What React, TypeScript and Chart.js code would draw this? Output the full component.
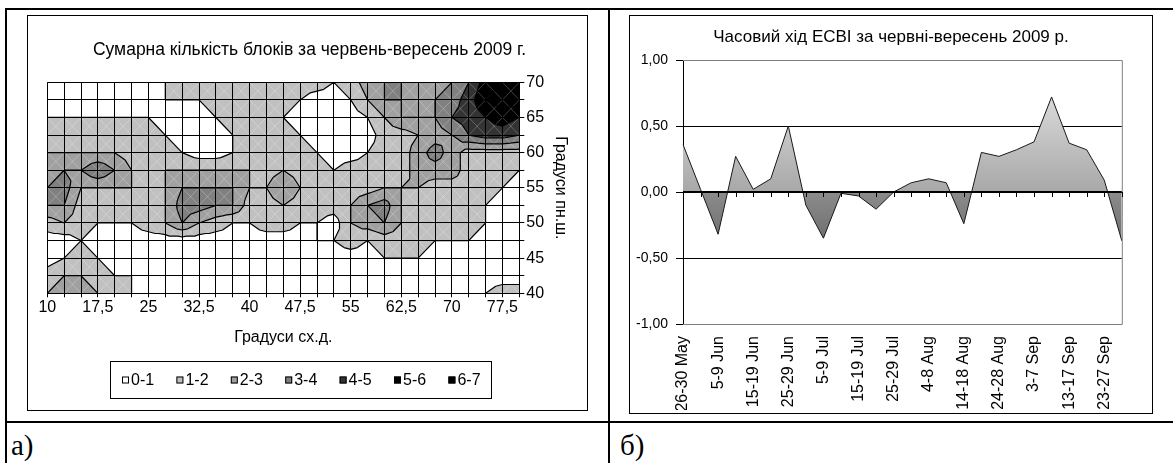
import React, { useEffect, useRef } from 'react';
import { Chart, registerables } from 'chart.js';

Chart.register(...registerables);

const FONT = '"Liberation Sans", Arial, sans-serif';

// ---------- panel (a): contour grid ----------
const lons = [10, 12.5, 15, 17.5, 20, 22.5, 25, 27.5, 30, 32.5, 35, 37.5, 40, 42.5, 45, 47.5, 50, 52.5, 55, 57.5, 60, 62.5, 65, 67.5, 70, 72.5, 75, 77.5, 80];
const lats = [70, 67.5, 65, 62.5, 60, 57.5, 55, 52.5, 50, 47.5, 45, 42.5, 40];
const lonLabels = [10, 17.5, 25, 32.5, 40, 47.5, 55, 62.5, 70, 77.5];
const latLabels = [70, 65, 60, 55, 50, 45, 40];

const lat70 = [0.5, 0.5, 0.5, 0.5, 0.5, 0.5, 0.5, 1, 1.5, 1.5, 1.5, 1.5, 1.5, 1.5, 1.5, 1.5, 1.5, 1, 1.5, 2.5, 3, 3, 2.5, 2.5, 3, 4, 5.5, 6, 6.5];
const lat67_5 = [0.5, 0.5, 0.5, 0.5, 0.5, 0.5, 0.5, 1, 1, 1, 1.5, 1.5, 1.5, 1.5, 1.5, 1, 0.5, 0.5, 1, 2, 3, 3, 2.5, 3, 3.5, 4.5, 6, 6.5, 6.5];
const lat65 = [1, 1, 1, 1, 1, 1, 1, 0.5, 0.5, 0.5, 1, 1.5, 1.5, 1.5, 1, 0.5, 0.5, 0.5, 0.5, 1, 2, 3, 3, 3, 4, 4.5, 5, 5.5, 5];
const lat62_5 = [1.5, 1.5, 1.5, 1.5, 1.5, 1.5, 1.5, 1, 0.5, 0.5, 0.5, 1, 1.5, 1.5, 1.5, 1, 0.5, 0.5, 0.5, 0.5, 1.5, 1.5, 2, 2.5, 3, 4, 4.5, 4.5, 4];
const lat60 = [2, 2, 2, 2, 2, 1.5, 1.5, 1.5, 1, 0.5, 0.5, 1, 1.5, 1.5, 1.5, 1.5, 1, 0.5, 0.5, 1, 1.5, 1.5, 2.5, 3.5, 2.5, 1.5, 1.5, 1.5, 1.5];
const lat57_5 = [2.5, 3, 3, 3.9, 3, 2, 1.5, 2, 2, 2, 2, 2, 2, 1.5, 2, 1.5, 1.5, 1, 1.5, 1.5, 1.5, 1.5, 2.5, 2.5, 2.5, 1.5, 1.5, 1.5, 1];
const lat55 = [3, 3.5, 2, 2, 2, 2, 1.5, 2, 3, 3, 3, 3, 2, 2, 3, 2, 1.5, 1.5, 1.5, 1.5, 2, 2, 2, 1.5, 1.5, 1.5, 1.5, 1, 0.5];
const lat52_5 = [3, 3, 1.5, 1.5, 1.5, 1.5, 1.5, 2, 3.5, 3.5, 3, 3, 1.5, 1.5, 2, 1.5, 1.5, 1.5, 2, 3, 3.5, 2, 1.5, 1.5, 1.5, 1.5, 1, 0.5, 0.5];
const lat50 = [1.5, 2, 1.5, 1, 1, 1, 1.5, 2, 3, 2, 1.5, 1, 1, 1.5, 1.5, 1, 1, 0.5, 2, 2.5, 3, 2, 1.5, 1.5, 1.5, 1.5, 1, 0.5, 0.5];
const lat47_5 = [0.5, 0.5, 1, 0.5, 0.5, 0.5, 0.5, 0.5, 0.5, 0.5, 0.5, 0.5, 0.5, 0.5, 0.5, 0.5, 1, 1, 1.5, 1, 1.5, 1.5, 1.5, 1, 1, 1, 0.5, 0.5, 0.5];
const lat45 = [0.5, 1, 1.5, 1, 0.5, 0.5, 0.5, 0.5, 0.5, 0.5, 0.5, 0.5, 0.5, 0.5, 0.5, 0.5, 0.5, 0.5, 0.5, 0.5, 1, 1, 1, 0.5, 0.5, 0.5, 0.5, 0.5, 0.5];
const lat42_5 = [1.5, 2, 2, 1.5, 1, 1, 0.5, 0.5, 0.5, 0.5, 0.5, 0.5, 0.5, 0.5, 0.5, 0.5, 0.5, 0.5, 0.5, 0.5, 0.5, 0.5, 0.5, 0.5, 0.5, 0.5, 0.5, 0.5, 0.5];
const lat40 = [2, 2.5, 2.5, 2, 1.5, 1, 0.5, 0.5, 0.5, 0.5, 0.5, 0.5, 0.5, 0.5, 0.5, 0.5, 0.5, 0.5, 0.5, 0.5, 0.5, 0.5, 0.5, 0.5, 0.5, 0.5, 1, 1.5, 1.5];

const bandNames = ['0-1', '1-2', '2-3', '3-4', '4-5', '5-6', '6-7'];
const bandColors = ['#ffffff', '#c0c0c0', '#a0a0a0', '#808080', '#333333', '#000000', '#000000'];

const grid = [lat70, lat67_5, lat65, lat62_5, lat60, lat57_5, lat55, lat52_5, lat50, lat47_5, lat45, lat42_5, lat40];

// ---------- panel (b): ESBI time series ----------
const periods = ['26-30 May', '31 May-4 Jun', '5-9 Jun', '10-14 Jun', '15-19 Jun', '20-24 Jun', '25-29 Jun', '30 Jun-4 Jul', '5-9 Jul', '10-14 Jul', '15-19 Jul', '20-24 Jul', '25-29 Jul', '30 Jul-3 Aug', '4-8 Aug', '9-13 Aug', '14-18 Aug', '19-23 Aug', '24-28 Aug', '29 Aug-2 Sep', '3-7 Sep', '8-12 Sep', '13-17 Sep', '18-22 Sep', '23-27 Sep', '28 Sep-2 Oct'];
const esbi = [0.36, 0.02, -0.32, 0.27, 0.02, 0.10, 0.50, -0.10, -0.35, -0.01, -0.03, -0.13, 0.00, 0.07, 0.10, 0.07, -0.24, 0.30, 0.27, 0.32, 0.38, 0.72, 0.37, 0.32, 0.09, -0.37];

type P = { x: number; y: number; v: number };

function clipAbove(poly: P[], level: number): P[] {
  const out: P[] = [];
  for (let i = 0; i < poly.length; i++) {
    const a = poly[i];
    const b = poly[(i + 1) % poly.length];
    const ina = a.v >= level;
    const inb = b.v >= level;
    if (ina) out.push(a);
    if (ina !== inb) {
      const t = (level - a.v) / (b.v - a.v);
      out.push({ x: a.x + t * (b.x - a.x), y: a.y + t * (b.y - a.y), v: level });
    }
  }
  return out;
}

const fmt = (v: number) => String(v).replace('.', ',');

const contourPlugin = {
  id: 'contourBands',
  beforeDatasetsDraw(chart: any) {
    const ctx: CanvasRenderingContext2D = chart.ctx;
    const xs = chart.scales.x;
    const ys = chart.scales.y;
    const ca = chart.chartArea;
    const tris: P[][] = [];
    for (let r = 0; r < lats.length - 1; r++) {
      for (let c = 0; c < lons.length - 1; c++) {
        const x0 = xs.getPixelForValue(lons[c]);
        const x1 = xs.getPixelForValue(lons[c + 1]);
        const y0 = ys.getPixelForValue(lats[r]);
        const y1 = ys.getPixelForValue(lats[r + 1]);
        const p00 = { x: x0, y: y0, v: grid[r][c] };
        const p10 = { x: x1, y: y0, v: grid[r][c + 1] };
        const p01 = { x: x0, y: y1, v: grid[r + 1][c] };
        const p11 = { x: x1, y: y1, v: grid[r + 1][c + 1] };
        const pc = { x: (x0 + x1) / 2, y: (y0 + y1) / 2, v: (p00.v + p10.v + p01.v + p11.v) / 4 };
        tris.push([p00, p10, pc], [p10, p11, pc], [p11, p01, pc], [p01, p00, pc]);
      }
    }
    ctx.save();
    ctx.fillStyle = bandColors[0];
    ctx.fillRect(ca.left, ca.top, ca.right - ca.left, ca.bottom - ca.top);
    for (let k = 1; k < bandColors.length; k++) {
      ctx.beginPath();
      for (const t of tris) {
        const poly = clipAbove(t, k);
        if (poly.length < 3) continue;
        ctx.moveTo(poly[0].x, poly[0].y);
        for (let i = 1; i < poly.length; i++) ctx.lineTo(poly[i].x, poly[i].y);
        ctx.closePath();
      }
      ctx.fillStyle = bandColors[k];
      ctx.fill();
    }
    // faint cell diagonals
    ctx.strokeStyle = 'rgba(255,255,255,0.24)';
    ctx.lineWidth = 1;
    ctx.beginPath();
    for (let r = 0; r < lats.length - 1; r++) {
      for (let c = 0; c < lons.length - 1; c++) {
        const x0 = xs.getPixelForValue(lons[c]);
        const x1 = xs.getPixelForValue(lons[c + 1]);
        const y0 = ys.getPixelForValue(lats[r]);
        const y1 = ys.getPixelForValue(lats[r + 1]);
        ctx.moveTo(x0, y0); ctx.lineTo(x1, y1);
        ctx.moveTo(x1, y0); ctx.lineTo(x0, y1);
      }
    }
    ctx.stroke();
    // contour lines
    ctx.strokeStyle = '#000';
    ctx.lineWidth = 1.2;
    ctx.beginPath();
    for (let k = 1; k < bandColors.length; k++) {
      for (const t of tris) {
        const ab = t.map((p) => p.v >= k);
        const n = ab.filter(Boolean).length;
        if (n === 0 || n === 3) continue;
        const seg: { x: number; y: number }[] = [];
        for (let i = 0; i < 3; i++) {
          const j = (i + 1) % 3;
          if (ab[i] !== ab[j]) {
            const a = t[i], b = t[j];
            const tt = (k - a.v) / (b.v - a.v);
            seg.push({ x: a.x + tt * (b.x - a.x), y: a.y + tt * (b.y - a.y) });
          }
        }
        if (seg.length === 2 && Math.hypot(seg[0].x - seg[1].x, seg[0].y - seg[1].y) > 0.01) {
          ctx.moveTo(seg[0].x, seg[0].y);
          ctx.lineTo(seg[1].x, seg[1].y);
        }
      }
    }
    ctx.stroke();
    ctx.restore();
  },
  afterDraw(chart: any) {
    const ctx: CanvasRenderingContext2D = chart.ctx;
    const W = chart.width, H = chart.height;
    const ca = chart.chartArea;
    ctx.save();
    ctx.strokeStyle = '#000';
    ctx.lineWidth = 1;
    ctx.strokeRect(0.5, 0.5, W - 1, H - 1);
    ctx.fillStyle = '#000';
    ctx.textAlign = 'center';
    ctx.textBaseline = 'middle';
    ctx.font = `17.5px ${FONT}`;
    ctx.fillText('Сумарна кількість блоків за червень-вересень 2009 г.', W / 2 + 2, 35);
    ctx.font = `16px ${FONT}`;
    ctx.fillText('Градуси сх.д.', (ca.left + ca.right) / 2, 323);
    ctx.save();
    ctx.translate(533, (ca.top + ca.bottom) / 2);
    ctx.rotate(Math.PI / 2);
    ctx.fillText('Градуси пн.ш.', 0, 0);
    ctx.restore();
    // legend
    const lx = 83.5, ly = 346.5, lw = 381, lh = 37;
    ctx.strokeRect(lx, ly, lw, lh);
    ctx.textAlign = 'left';
    ctx.font = `16px ${FONT}`;
    bandNames.forEach((name, i) => {
      const sx = 95 + i * 54.4;
      const sy = ly + lh / 2 - 3.5;
      ctx.fillStyle = bandColors[i];
      ctx.fillRect(sx, sy, 7, 7);
      ctx.strokeStyle = '#000';
      ctx.strokeRect(sx + 0.5, sy + 0.5, 6, 6);
      ctx.fillStyle = '#000';
      ctx.fillText(name, sx + 9, ly + lh / 2 + 0.5);
    });
    ctx.restore();
  },
};

const esbiPlugin = {
  id: 'esbiDecor',
  afterDatasetsDraw(chart: any) {
    const ctx: CanvasRenderingContext2D = chart.ctx;
    const xs = chart.scales.x;
    const ys = chart.scales.y;
    const ca = chart.chartArea;
    const y0 = Math.round(ys.getPixelForValue(0));
    ctx.save();
    ctx.strokeStyle = '#808080';
    ctx.lineWidth = 1;
    ctx.beginPath();
    ctx.moveTo(ca.left, ca.top + 0.5);
    ctx.lineTo(ca.right + 0.5, ca.top + 0.5);
    ctx.lineTo(ca.right + 0.5, ca.bottom + 0.5);
    ctx.lineTo(ca.left, ca.bottom + 0.5);
    ctx.stroke();
    ctx.strokeStyle = '#000';
    ctx.lineWidth = 2;
    ctx.beginPath();
    ctx.moveTo(ca.left, y0);
    ctx.lineTo(ca.right, y0);
    ctx.stroke();
    ctx.lineWidth = 1;
    ctx.beginPath();
    for (let i = 0; i < periods.length; i++) {
      const x = Math.round(xs.getPixelForValue(i)) + 0.5;
      ctx.moveTo(x, y0);
      ctx.lineTo(x, y0 + 5);
    }
    ctx.stroke();
    ctx.restore();
  },
  afterDraw(chart: any) {
    const ctx: CanvasRenderingContext2D = chart.ctx;
    const W = chart.width, H = chart.height;
    ctx.save();
    ctx.strokeStyle = '#000';
    ctx.lineWidth = 1;
    ctx.strokeRect(0.5, 0.5, W - 1, H - 1);
    ctx.fillStyle = '#000';
    ctx.textAlign = 'center';
    ctx.textBaseline = 'middle';
    ctx.font = `17px ${FONT}`;
    ctx.fillText('Часовий хід ЕСВІ за червні-вересень 2009 р.', W / 2, 22);
    ctx.restore();
  },
};

function ContourPanel() {
  const ref = useRef<HTMLCanvasElement>(null);
  useEffect(() => {
    const W = 561, H = 396;
    const points: { x: number; y: number }[] = [];
    lats.forEach((la) => lons.forEach((lo) => points.push({ x: lo, y: la })));
    const chart = new Chart(ref.current as HTMLCanvasElement, {
      type: 'scatter',
      data: { datasets: [{ data: points, pointRadius: 0, pointHoverRadius: 0, showLine: false }] },
      options: {
        responsive: false,
        animation: false,
        devicePixelRatio: 1,
        events: [],
        layout: { padding: { left: 20.3, top: 67.3, right: W - 492.3 - 38, bottom: H - 278.3 - 33 } },
        plugins: { legend: { display: false }, title: { display: false }, tooltip: { enabled: false } },
        scales: {
          x: {
            type: 'linear',
            min: 10,
            max: 80,
            afterBuildTicks: (s: any) => { s.ticks = lons.map((v) => ({ value: v })); },
            afterFit: (s: any) => { s.height = 33; },
            grid: { color: '#000', lineWidth: 1, drawTicks: true, tickLength: 4, tickColor: '#000', z: 1 },
            border: { color: '#000', width: 1, z: 1 },
            ticks: {
              autoSkip: false, maxRotation: 0, minRotation: 0, padding: 1, color: '#000',
              font: { family: FONT, size: 16 },
              callback: (v: any) => (lonLabels.includes(Number(v)) ? fmt(Number(v)) : ''),
            },
          },
          y: {
            type: 'linear',
            position: 'right',
            min: 40,
            max: 70,
            afterBuildTicks: (s: any) => { s.ticks = lats.map((v) => ({ value: v })); },
            afterFit: (s: any) => { s.width = 38; },
            grid: { color: '#000', lineWidth: 1, drawTicks: true, tickLength: 5, tickColor: '#000', z: 1 },
            border: { color: '#000', width: 1, z: 1 },
            ticks: {
              autoSkip: false, padding: 2, color: '#000',
              font: { family: FONT, size: 16 },
              callback: (v: any) => (latLabels.includes(Number(v)) ? fmt(Number(v)) : ''),
            },
          },
        },
      } as any,
      plugins: [contourPlugin],
    });
    return () => chart.destroy();
  }, []);
  return (
    <canvas ref={ref} width={561} height={396}
      style={{ position: 'absolute', left: 27, top: 15, width: 561, height: 396 }} />
  );
}

function EsbiPanel() {
  const ref = useRef<HTMLCanvasElement>(null);
  useEffect(() => {
    const W = 524, H = 399;
    const chart = new Chart(ref.current as HTMLCanvasElement, {
      type: 'line',
      data: {
        labels: periods,
        datasets: [{
          data: esbi,
          borderColor: '#1a1a1a',
          borderWidth: 1,
          pointRadius: 0,
          tension: 0,
          fill: 'origin',
          backgroundColor: (c: any) => {
            const ca = c.chart.chartArea;
            if (!ca) return '#aaaaaa';
            const g = c.chart.ctx.createLinearGradient(0, ca.top, 0, ca.bottom);
            g.addColorStop(0, '#ececec');
            g.addColorStop(0.499, '#a8a8a8');
            g.addColorStop(0.501, '#8c8c8c');
            g.addColorStop(1, '#3a3a3a');
            return g;
          },
        }],
      },
      options: {
        responsive: false,
        animation: false,
        devicePixelRatio: 1,
        events: [],
        layout: { padding: { left: 0, top: 45, right: W - 505, bottom: H - 309 - 86 } },
        plugins: { legend: { display: false }, title: { display: false }, tooltip: { enabled: false } },
        scales: {
          x: {
            type: 'category',
            offset: false,
            afterFit: (s: any) => { s.height = 86; },
            grid: { display: false, drawTicks: false },
            border: { display: false },
            ticks: {
              autoSkip: false, minRotation: 90, maxRotation: 90, padding: 12, color: '#000',
              font: { family: FONT, size: 16 },
              callback: (_v: any, i: number) => (i % 2 === 0 ? periods[i] : ''),
            },
          },
          y: {
            type: 'linear',
            min: -1,
            max: 1,
            afterFit: (s: any) => { s.width = 54; },
            grid: {
              color: (c: any) => (Math.abs(c.tick.value) === 1 ? 'rgba(0,0,0,0)' : '#000'),
              lineWidth: 1,
              drawTicks: true,
              tickLength: 7,
              tickColor: '#000',
            },
            border: { color: '#000', width: 1 },
            ticks: {
              stepSize: 0.5, padding: 8, color: '#000',
              font: { family: FONT, size: 14 },
              callback: (v: any) => Number(v).toFixed(2).replace('.', ','),
            },
          },
        },
      } as any,
      plugins: [esbiPlugin],
    });
    return () => chart.destroy();
  }, []);
  return (
    <canvas ref={ref} width={524} height={399}
      style={{ position: 'absolute', left: 629, top: 15, width: 524, height: 399 }} />
  );
}

export default function App() {
  const line = (l: number, t: number, w: number, h: number) => (
    <div style={{ position: 'absolute', left: l, top: t, width: w, height: h, background: '#000' }} />
  );
  const lab: React.CSSProperties = { position: 'absolute', font: '29px "Liberation Serif", "Times New Roman", serif', lineHeight: '29px', color: '#000' };
  return (
    <div style={{ position: 'fixed', left: 0, top: 0, width: 1173, height: 463, background: '#fff', overflow: 'hidden' }}>
      {line(5, 8, 1168, 2)}
      {line(5, 8, 2, 455)}
      {line(608, 8, 2, 455)}
      {line(5, 421, 1168, 2)}
      <ContourPanel />
      <EsbiPanel />
      <div style={{ ...lab, left: 11, top: 431 }}>а)</div>
      <div style={{ ...lab, left: 620, top: 431 }}>б)</div>
    </div>
  );
}
